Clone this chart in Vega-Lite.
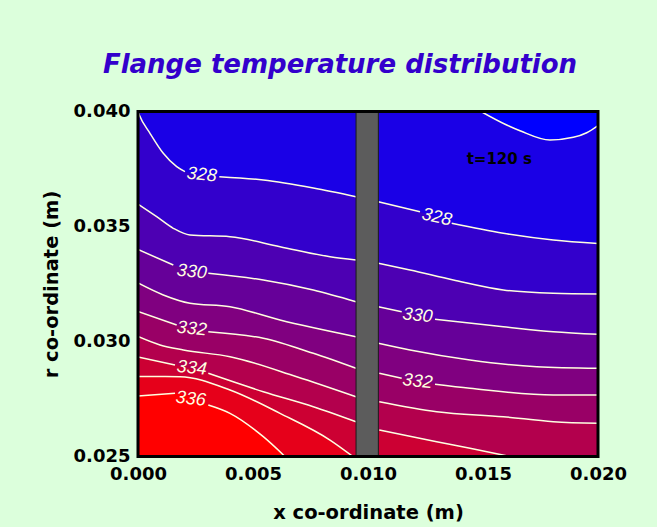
{
  "$schema": "https://vega.github.io/schema/vega-lite/v6.json",
  "width": 460,
  "height": 345,
  "autosize": {"type": "none"},
  "padding": {"left": 138, "top": 111.5, "right": 59, "bottom": 70.5},
  "background": "#DCFFDC",
  "title": {
    "text": "Flange temperature distribution",
    "font": "DejaVu Sans",
    "fontSize": 26,
    "fontWeight": "bold",
    "fontStyle": "italic",
    "color": "#3300CC",
    "offset": 25,
    "dx": -28,
    "anchor": "middle"
  },
  "datasets": {
    "contours": [
      {"lvl": 327, "seg": "327", "x": 0.014913, "y": 0.04},
      {"lvl": 327, "seg": "327", "x": 0.01603, "y": 0.039413},
      {"lvl": 327, "seg": "327", "x": 0.016609, "y": 0.039165},
      {"lvl": 327, "seg": "327", "x": 0.017913, "y": 0.038761},
      {"lvl": 327, "seg": "327", "x": 0.018926, "y": 0.038878},
      {"lvl": 327, "seg": "327", "x": 0.019509, "y": 0.039078},
      {"lvl": 327, "seg": "327", "x": 0.02, "y": 0.039391},

      {"lvl": 328, "seg": "328a", "x": 0, "y": 0.04},
      {"lvl": 328, "seg": "328a", "x": 0.000057, "y": 0.039848},
      {"lvl": 328, "seg": "328a", "x": 0.000522, "y": 0.039052},
      {"lvl": 328, "seg": "328a", "x": 0.0011, "y": 0.038183},
      {"lvl": 328, "seg": "328a", "x": 0.001683, "y": 0.0376},
      {"lvl": 328, "seg": "328a", "x": 0.002043, "y": 0.037383},
      {"lvl": 328, "seg": "328b", "x": 0.003535, "y": 0.037165},
      {"lvl": 328, "seg": "328b", "x": 0.005448, "y": 0.037022},
      {"lvl": 328, "seg": "328b", "x": 0.007622, "y": 0.036674},
      {"lvl": 328, "seg": "328b", "x": 0.009478, "y": 0.036296},
      {"lvl": 328, "seg": "328c", "x": 0.010448, "y": 0.036078},
      {"lvl": 328, "seg": "328c", "x": 0.012261, "y": 0.035643},
      {"lvl": 328, "seg": "328d", "x": 0.013639, "y": 0.035139},
      {"lvl": 328, "seg": "328d", "x": 0.015883, "y": 0.034704},
      {"lvl": 328, "seg": "328d", "x": 0.018057, "y": 0.034413},
      {"lvl": 328, "seg": "328d", "x": 0.02, "y": 0.034261},

      {"lvl": 329, "seg": "329a", "x": 0, "y": 0.035978},
      {"lvl": 329, "seg": "329a", "x": 0.000813, "y": 0.035426},
      {"lvl": 329, "seg": "329a", "x": 0.001535, "y": 0.034922},
      {"lvl": 329, "seg": "329a", "x": 0.002261, "y": 0.03463},
      {"lvl": 329, "seg": "329a", "x": 0.004, "y": 0.034557},
      {"lvl": 329, "seg": "329a", "x": 0.006174, "y": 0.034122},
      {"lvl": 329, "seg": "329a", "x": 0.008348, "y": 0.033687},
      {"lvl": 329, "seg": "329a", "x": 0.009478, "y": 0.033543},
      {"lvl": 329, "seg": "329b", "x": 0.010448, "y": 0.0334},
      {"lvl": 329, "seg": "329b", "x": 0.011826, "y": 0.033109},
      {"lvl": 329, "seg": "329b", "x": 0.013709, "y": 0.032674},
      {"lvl": 329, "seg": "329b", "x": 0.015883, "y": 0.032239},
      {"lvl": 329, "seg": "329b", "x": 0.018057, "y": 0.032096},
      {"lvl": 329, "seg": "329b", "x": 0.02, "y": 0.032065},

      {"lvl": 330, "seg": "330a", "x": 0, "y": 0.034},
      {"lvl": 330, "seg": "330a", "x": 0.001535, "y": 0.033326},
      {"lvl": 330, "seg": "330b", "x": 0.003057, "y": 0.032965},
      {"lvl": 330, "seg": "330b", "x": 0.005448, "y": 0.032674},
      {"lvl": 330, "seg": "330b", "x": 0.007622, "y": 0.032239},
      {"lvl": 330, "seg": "330b", "x": 0.009478, "y": 0.03173},
      {"lvl": 330, "seg": "330c", "x": 0.010448, "y": 0.031513},
      {"lvl": 330, "seg": "330c", "x": 0.011465, "y": 0.031296},
      {"lvl": 330, "seg": "330d", "x": 0.012913, "y": 0.030965},
      {"lvl": 330, "seg": "330d", "x": 0.015883, "y": 0.030643},
      {"lvl": 330, "seg": "330d", "x": 0.018057, "y": 0.030426},
      {"lvl": 330, "seg": "330d", "x": 0.02, "y": 0.030313},

      {"lvl": 331, "seg": "331a", "x": 0, "y": 0.032543},
      {"lvl": 331, "seg": "331a", "x": 0.0011, "y": 0.032022},
      {"lvl": 331, "seg": "331a", "x": 0.002261, "y": 0.031661},
      {"lvl": 331, "seg": "331a", "x": 0.004, "y": 0.031513},
      {"lvl": 331, "seg": "331a", "x": 0.006174, "y": 0.030935},
      {"lvl": 331, "seg": "331a", "x": 0.009478, "y": 0.030209},
      {"lvl": 331, "seg": "331b", "x": 0.010448, "y": 0.029922},
      {"lvl": 331, "seg": "331b", "x": 0.011826, "y": 0.02963},
      {"lvl": 331, "seg": "331b", "x": 0.014435, "y": 0.029196},
      {"lvl": 331, "seg": "331b", "x": 0.017335, "y": 0.028904},
      {"lvl": 331, "seg": "331b", "x": 0.02, "y": 0.028835},

      {"lvl": 332, "seg": "332a", "x": 0, "y": 0.031304},
      {"lvl": 332, "seg": "332a", "x": 0.001683, "y": 0.030717},
      {"lvl": 332, "seg": "332b", "x": 0.003057, "y": 0.030426},
      {"lvl": 332, "seg": "332b", "x": 0.005448, "y": 0.030139},
      {"lvl": 332, "seg": "332b", "x": 0.007622, "y": 0.029487},
      {"lvl": 332, "seg": "332b", "x": 0.009478, "y": 0.028835},
      {"lvl": 332, "seg": "332c", "x": 0.010491, "y": 0.028617},
      {"lvl": 332, "seg": "332c", "x": 0.011465, "y": 0.0284},
      {"lvl": 332, "seg": "332d", "x": 0.012913, "y": 0.028139},
      {"lvl": 332, "seg": "332d", "x": 0.014435, "y": 0.027965},
      {"lvl": 332, "seg": "332d", "x": 0.018057, "y": 0.027674},
      {"lvl": 332, "seg": "332d", "x": 0.02, "y": 0.027674},

      {"lvl": 333, "seg": "333a", "x": 0, "y": 0.030217},
      {"lvl": 333, "seg": "333a", "x": 0.000957, "y": 0.029848},
      {"lvl": 333, "seg": "333a", "x": 0.00197, "y": 0.02963},
      {"lvl": 333, "seg": "333a", "x": 0.004, "y": 0.029339},
      {"lvl": 333, "seg": "333a", "x": 0.0069, "y": 0.02847},
      {"lvl": 333, "seg": "333a", "x": 0.009478, "y": 0.0276},
      {"lvl": 333, "seg": "333b", "x": 0.010491, "y": 0.027383},
      {"lvl": 333, "seg": "333b", "x": 0.012987, "y": 0.026948},
      {"lvl": 333, "seg": "333b", "x": 0.015883, "y": 0.02673},
      {"lvl": 333, "seg": "333b", "x": 0.018057, "y": 0.026513},
      {"lvl": 333, "seg": "333b", "x": 0.02, "y": 0.026443},

      {"lvl": 334, "seg": "334a", "x": 0, "y": 0.029326},
      {"lvl": 334, "seg": "334a", "x": 0.001609, "y": 0.028978},
      {"lvl": 334, "seg": "334b", "x": 0.003057, "y": 0.028617},
      {"lvl": 334, "seg": "334b", "x": 0.005448, "y": 0.027817},
      {"lvl": 334, "seg": "334b", "x": 0.007622, "y": 0.027165},
      {"lvl": 334, "seg": "334b", "x": 0.009478, "y": 0.026513},
      {"lvl": 334, "seg": "334c", "x": 0.010491, "y": 0.026152},
      {"lvl": 334, "seg": "334c", "x": 0.012987, "y": 0.025643},
      {"lvl": 334, "seg": "334c", "x": 0.014435, "y": 0.025357},
      {"lvl": 334, "seg": "334c", "x": 0.016174, "y": 0.025},

      {"lvl": 335, "seg": "335a", "x": 0, "y": 0.028478},
      {"lvl": 335, "seg": "335a", "x": 0.001826, "y": 0.02847},
      {"lvl": 335, "seg": "335a", "x": 0.004, "y": 0.027891},
      {"lvl": 335, "seg": "335a", "x": 0.006174, "y": 0.026878},
      {"lvl": 335, "seg": "335a", "x": 0.008348, "y": 0.025717},
      {"lvl": 335, "seg": "335a", "x": 0.009348, "y": 0.025},

      {"lvl": 336, "seg": "336a", "x": 0, "y": 0.02763},
      {"lvl": 336, "seg": "336a", "x": 0.001609, "y": 0.027748},
      {"lvl": 336, "seg": "336b", "x": 0.003057, "y": 0.027239},
      {"lvl": 336, "seg": "336b", "x": 0.004, "y": 0.026878},
      {"lvl": 336, "seg": "336b", "x": 0.005448, "y": 0.025861},
      {"lvl": 336, "seg": "336b", "x": 0.006391, "y": 0.025}
    ],
    "labels": [
      {"lvl": 328, "x": 0.00277, "y": 0.037239},
      {"lvl": 330, "x": 0.002335, "y": 0.033022},
      {"lvl": 332, "x": 0.002335, "y": 0.030543},
      {"lvl": 334, "x": 0.002335, "y": 0.028835},
      {"lvl": 336, "x": 0.002296, "y": 0.027491},
      {"lvl": 328, "x": 0.012987, "y": 0.035391},
      {"lvl": 330, "x": 0.012152, "y": 0.031117},
      {"lvl": 332, "x": 0.012152, "y": 0.028252}
    ],
    "boxes": [
      {"part": "bar", "x": 0.00948, "xe": 0.01045, "y": 0.025, "ye": 0.04},
      {"part": "frame", "x": 0, "xe": 0.02, "y": 0.025, "ye": 0.04}
    ]
  },
  "encoding": {
    "x": {
      "field": "x",
      "type": "quantitative",
      "scale": {"domain": [0, 0.02], "nice": false, "zero": false},
      "axis": {
        "title": "x co-ordinate (m)",
        "values": [0, 0.005, 0.01, 0.015, 0.02],
        "format": ".3f",
        "labelFlush": false,
        "ticks": false,
        "tickSize": 0,
        "grid": false,
        "domain": false,
        "labelPadding": 9,
        "titlePadding": 20
      }
    },
    "y": {
      "field": "y",
      "type": "quantitative",
      "scale": {"domain": [0.025, 0.04], "nice": false, "zero": false},
      "axis": {
        "title": "r co-ordinate (m)",
        "values": [0.025, 0.03, 0.035, 0.04],
        "format": ".3f",
        "labelFlush": false,
        "ticks": false,
        "tickSize": 0,
        "grid": false,
        "domain": false,
        "labelPadding": 8,
        "titlePadding": 12
      }
    }
  },
  "layer": [
    {
      "data": {"name": "contours"},
      "transform": [{"filter": "datum.lvl >= 328"}],
      "mark": {"type": "area", "clip": true, "interpolate": "monotone"},
      "encoding": {
        "y": {"field": "y", "type": "quantitative", "stack": null},
        "y2": {"datum": 0.025},
        "color": {
          "field": "lvl",
          "type": "ordinal",
          "scale": {
            "domain": [328, 329, 330, 331, 332, 333, 334, 335, 336],
            "range": ["#3300CC", "#4D00B3", "#660099", "#800080", "#990066", "#B3004D", "#CC0033", "#E6001A", "#FF0000"]
          },
          "legend": null
        }
      }
    },
    {
      "data": {"name": "contours"},
      "transform": [{"filter": "datum.lvl == 327"}],
      "mark": {"type": "area", "color": "#0000FF", "clip": true, "interpolate": "monotone"},
      "encoding": {
        "y": {"field": "y", "type": "quantitative", "stack": null},
        "y2": {"datum": 0.04}
      }
    },
    {
      "data": {"name": "contours"},
      "mark": {"type": "line", "color": "#FFFFE0", "strokeWidth": 1.5, "clip": true, "interpolate": "monotone"},
      "encoding": {
        "detail": {"field": "seg"}
      }
    },
    {
      "data": {"name": "boxes"},
      "transform": [{"filter": "datum.part == 'bar'"}],
      "mark": {"type": "rect", "fill": "#5c5c5c", "stroke": "#1a1a1a", "strokeWidth": 1},
      "encoding": {
        "x2": {"field": "xe"},
        "y2": {"field": "ye"}
      }
    },
    {
      "data": {"name": "labels"},
      "transform": [{"filter": "!(datum.lvl == 328 && datum.x > 0.01)"}],
      "mark": {"type": "text", "font": "Liberation Sans Narrow, Liberation Sans", "fontSize": 18, "fontStyle": "italic", "color": "#FFFFE0", "angle": 6, "align": "center", "baseline": "middle"},
      "encoding": {"text": {"field": "lvl"}}
    },
    {
      "data": {"name": "labels"},
      "transform": [{"filter": "datum.lvl == 328 && datum.x > 0.01"}],
      "mark": {"type": "text", "font": "Liberation Sans Narrow, Liberation Sans", "fontSize": 18, "fontStyle": "italic", "color": "#FFFFE0", "angle": 13, "align": "center", "baseline": "middle"},
      "encoding": {"text": {"field": "lvl"}}
    },
    {
      "data": {"values": [{"x": 0.01429, "y": 0.03794, "note": "t=120 s"}]},
      "mark": {"type": "text", "font": "DejaVu Sans", "fontSize": 15, "fontWeight": "bold", "color": "#000000", "align": "left", "baseline": "middle"},
      "encoding": {"text": {"field": "note"}}
    },
    {
      "data": {"name": "boxes"},
      "transform": [{"filter": "datum.part == 'frame'"}],
      "mark": {"type": "rect", "fill": "transparent", "stroke": "#000000", "strokeWidth": 3},
      "encoding": {
        "x2": {"field": "xe"},
        "y2": {"field": "ye"}
      }
    }
  ],
  "config": {
    "view": {"stroke": null, "fill": "#1A00E6"},
    "axis": {
      "labelFont": "DejaVu Sans",
      "labelFontWeight": "bold",
      "labelFontSize": 18,
      "labelColor": "#000000",
      "titleFont": "DejaVu Sans",
      "titleFontWeight": "bold",
      "titleFontSize": 19.5,
      "titleColor": "#000000"
    }
  }
}
